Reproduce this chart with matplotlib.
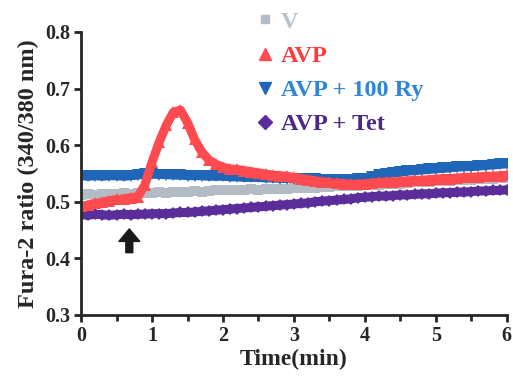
import numpy as np
import matplotlib
matplotlib.use("Agg")
import matplotlib.pyplot as plt
from matplotlib.lines import Line2D

# ---- data ----
time_min = np.round(np.arange(61) * 0.1, 1)

v_ratio = [0.512, 0.513, 0.512, 0.514, 0.513, 0.514, 0.515, 0.514, 0.515, 0.516, 0.516,
           0.517, 0.516, 0.517, 0.518, 0.518, 0.519, 0.518, 0.519, 0.520, 0.520,
           0.521, 0.520, 0.521, 0.522, 0.521, 0.522, 0.523, 0.522, 0.523, 0.524,
           0.524, 0.525, 0.525, 0.526, 0.526, 0.527, 0.527, 0.528, 0.528, 0.529,
           0.530, 0.530, 0.531, 0.532, 0.532, 0.533, 0.534, 0.534, 0.535, 0.536,
           0.536, 0.537, 0.538, 0.538, 0.539, 0.540, 0.540, 0.541, 0.542, 0.542]

avp_ratio = [0.492, 0.494, 0.497, 0.499, 0.502, 0.504, 0.505, 0.507, 0.509, 0.530, 0.570,
             0.605, 0.635, 0.658, 0.662, 0.640, 0.610, 0.588, 0.574, 0.566, 0.561,
             0.558, 0.557, 0.555, 0.553, 0.551, 0.549, 0.547, 0.546, 0.545, 0.543,
             0.541, 0.539, 0.537, 0.535, 0.534, 0.533, 0.532, 0.531, 0.531, 0.532,
             0.533, 0.534, 0.535, 0.535, 0.536, 0.537, 0.538, 0.538, 0.539, 0.540,
             0.541, 0.541, 0.542, 0.543, 0.543, 0.544, 0.545, 0.545, 0.546, 0.547]

ry_ratio = [0.546, 0.545, 0.546, 0.545, 0.546, 0.546, 0.545, 0.546, 0.547, 0.549, 0.549,
            0.548, 0.548, 0.547, 0.547, 0.546, 0.546, 0.546, 0.545, 0.545, 0.545,
            0.544, 0.544, 0.543, 0.543, 0.543, 0.542, 0.542, 0.541, 0.541, 0.541,
            0.540, 0.540, 0.540, 0.539, 0.539, 0.539, 0.539, 0.539, 0.540, 0.541,
            0.544, 0.547, 0.549, 0.551, 0.552, 0.554, 0.555, 0.556, 0.557, 0.558,
            0.559, 0.560, 0.561, 0.562, 0.562, 0.563, 0.564, 0.565, 0.566, 0.567]

tet_ratio = [0.477, 0.476, 0.478, 0.477, 0.476, 0.477, 0.478, 0.477, 0.478, 0.478, 0.479,
             0.479, 0.479, 0.480, 0.481, 0.481, 0.482, 0.483, 0.484, 0.485, 0.486,
             0.487, 0.488, 0.489, 0.490, 0.491, 0.492, 0.493, 0.494, 0.495, 0.496,
             0.497, 0.498, 0.500, 0.501, 0.502, 0.503, 0.504, 0.505, 0.507, 0.508,
             0.509, 0.510, 0.510, 0.511, 0.512, 0.512, 0.513, 0.514, 0.514, 0.515,
             0.516, 0.516, 0.517, 0.517, 0.518, 0.519, 0.519, 0.520, 0.520, 0.521]

series_labels = ["V", "AVP", "AVP + 100 Ry", "AVP + Tet"]
x_ticks = [0, 1, 2, 3, 4, 5, 6]
y_ticks = [0.3, 0.4, 0.5, 0.6, 0.7, 0.8]
arrow_time = 0.68

# ---- styling ----
FONT = "Liberation Serif"
c_v, c_avp, c_ry, c_tet = "#b3bcc4", "#ff4a4f", "#1f66b8", "#5a2d9a"
t_v, t_avp, t_ry, t_tet = "#b8c2cc", "#ff3a40", "#2f86d8", "#4a2a86"
txt = "#262626"

fig = plt.figure(figsize=(5.13, 3.85), dpi=100)
ax = fig.add_axes([0.158, 0.182, 0.830, 0.735])

kw = dict(linewidth=6.5, markersize=8, markeredgewidth=0, solid_joinstyle="round")
ax.plot(time_min, v_ratio, color=c_v, marker="s", **dict(kw, markersize=6.5))
ax.plot(time_min, tet_ratio, color=c_tet, marker="D", **dict(kw, markersize=6.5))
ax.plot(time_min, ry_ratio, color=c_ry, marker="v", **kw)
ax.plot(time_min, avp_ratio, color=c_avp, marker="^", **kw)

ax.set_xlim(0, 6)
ax.set_ylim(0.3, 0.8)
ax.set_xticks(x_ticks)
ax.set_xticks(np.arange(0.5, 6, 1.0), minor=True)
ax.set_yticks(y_ticks)
ax.set_xticklabels([str(v) for v in x_ticks])
ax.set_yticklabels([f"{v:.1f}" for v in y_ticks])

for s in ["top", "right"]:
    ax.spines[s].set_visible(False)
for s in ["left", "bottom"]:
    ax.spines[s].set_linewidth(2.0)
    ax.spines[s].set_color(txt)
ax.tick_params(which="major", direction="out", length=5, width=2, color=txt, pad=3)
ax.tick_params(which="minor", direction="out", length=4, width=2, color=txt)
for lab in ax.get_xticklabels() + ax.get_yticklabels():
    lab.set_fontfamily(FONT)
    lab.set_fontweight("bold")
    lab.set_fontsize(14.5)
    lab.set_color(txt)

ax.set_xlabel("Time(min)", fontfamily=FONT, fontweight="bold", fontsize=17, color=txt, labelpad=2)
ax.set_ylabel("Fura-2 ratio (340/380 nm)", fontfamily=FONT, fontweight="bold", fontsize=17.5,
              color=txt, labelpad=4)

# stimulus arrow
ax.annotate("", xy=(arrow_time, 0.452), xytext=(arrow_time, 0.410),
            arrowprops=dict(facecolor="#1a1a1a", edgecolor="#1a1a1a", width=5,
                            headwidth=15, headlength=9, shrink=0))

# legend
handles = [Line2D([], [], color=c_v, marker="s", linestyle="none", markersize=6),
           Line2D([], [], color=c_avp, marker="^", linestyle="none", markersize=9),
           Line2D([], [], color=c_ry, marker="v", linestyle="none", markersize=9),
           Line2D([], [], color=c_tet, marker="D", linestyle="none", markersize=7)]
leg = fig.legend(handles, series_labels, loc="upper left", bbox_to_anchor=(0.484, 0.997),
                 frameon=False, prop=dict(family=FONT, weight="bold", size=17.5),
                 handlelength=0.6, handletextpad=0.35, labelspacing=0.5, borderaxespad=0)
for t, c in zip(leg.get_texts(), [t_v, t_avp, t_ry, t_tet]):
    t.set_color(c)

fig.savefig("out.png", dpi=100)
